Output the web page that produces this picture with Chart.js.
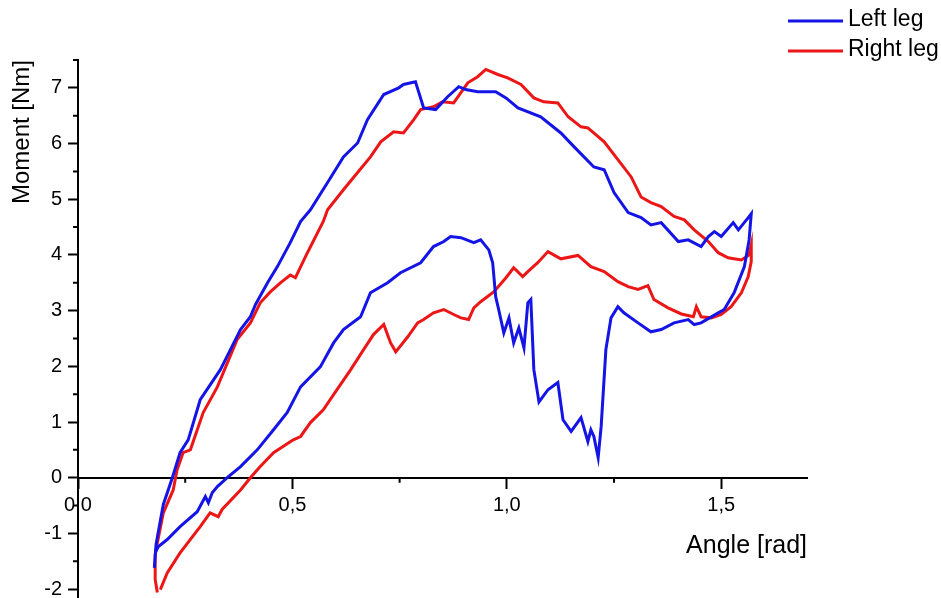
<!DOCTYPE html>
<html>
<head>
<meta charset="utf-8">
<title>Moment vs angle</title>
<script src="https://cdn.jsdelivr.net/npm/chart.js@4.4.1/dist/chart.umd.min.js"></script>
<style>
  body { margin: 0; background: #fff; }
  #wrap { width: 941px; height: 598px; }
</style>
</head>
<body>
<div id="wrap"><canvas id="momentChart" width="941" height="598"></canvas></div>
<script>
// loop of the left leg, angle [rad] and moment [Nm]
var leftAngle = [0.178, 0.182, 0.189, 0.199, 0.220, 0.238, 0.257, 0.285, 0.332, 0.379,
    0.402, 0.414, 0.442, 0.465, 0.495, 0.519, 0.542, 0.582, 0.619, 0.652,
    0.675, 0.713, 0.748, 0.759, 0.787, 0.806, 0.834, 0.862, 0.888, 0.904,
    0.932, 0.974, 0.998, 1.026, 1.079, 1.126, 1.157, 1.203, 1.227, 1.250,
    1.283, 1.313, 1.336, 1.360, 1.400, 1.423, 1.453, 1.470, 1.484, 1.500,
    1.528, 1.540, 1.563, 1.570, 1.565, 1.554, 1.530, 1.507, 1.493, 1.453,
    1.437, 1.423, 1.390, 1.360, 1.336, 1.306, 1.273, 1.259, 1.243, 1.231,
    1.220, 1.213, 1.203, 1.196, 1.189, 1.173, 1.150, 1.131, 1.119, 1.096,
    1.075, 1.063, 1.056, 1.049, 1.040, 1.028, 1.016, 1.005, 0.993, 0.981,
    0.974, 0.967, 0.958, 0.939, 0.923, 0.893, 0.869, 0.853, 0.829, 0.799,
    0.752, 0.722, 0.682, 0.659, 0.619, 0.596, 0.565, 0.519, 0.488, 0.456,
    0.418, 0.379, 0.348, 0.325, 0.313, 0.304, 0.297, 0.278, 0.238, 0.208,
    0.187, 0.180];
var leftMoment = [-1.62, -1.20, -0.90, -0.48, 0.00, 0.45, 0.68, 1.40, 1.94, 2.66,
    2.89, 3.11, 3.50, 3.79, 4.22, 4.60, 4.81, 5.30, 5.76, 6.01,
    6.43, 6.88, 7.00, 7.06, 7.11, 6.64, 6.61, 6.84, 7.02, 6.97,
    6.93, 6.93, 6.82, 6.64, 6.48, 6.19, 5.94, 5.58, 5.53, 5.12,
    4.76, 4.67, 4.54, 4.58, 4.24, 4.27, 4.15, 4.33, 4.42, 4.33,
    4.58, 4.45, 4.67, 4.74, 4.27, 3.79, 3.32, 3.02, 2.96, 2.78,
    2.75, 2.84, 2.78, 2.66, 2.62, 2.78, 2.96, 3.07, 2.87, 2.30,
    0.92, 0.36, 0.74, 0.86, 0.65, 1.08, 0.83, 1.04, 1.71, 1.58,
    1.36, 1.94, 3.20, 3.14, 2.33, 2.69, 2.42, 2.87, 2.60, 3.02,
    3.25, 3.86, 4.09, 4.27, 4.22, 4.31, 4.33, 4.24, 4.15, 3.86,
    3.68, 3.50, 3.32, 2.89, 2.66, 2.42, 1.99, 1.63, 1.17, 0.86,
    0.50, 0.20, 0.00, -0.16, -0.27, -0.45, -0.34, -0.61, -0.88, -1.11,
    -1.24, -1.35];

// loop of the right leg
var rightAngle = [0.185, 0.180, 0.180, 0.185, 0.199, 0.222, 0.231, 0.245, 0.262, 0.292,
    0.325, 0.371, 0.402, 0.425, 0.449, 0.472, 0.495, 0.507, 0.535, 0.572,
    0.582, 0.619, 0.652, 0.682, 0.706, 0.736, 0.759, 0.783, 0.799, 0.829,
    0.850, 0.876, 0.909, 0.932, 0.951, 0.979, 1.002, 1.033, 1.063, 1.086,
    1.119, 1.143, 1.173, 1.189, 1.227, 1.259, 1.290, 1.313, 1.336, 1.360,
    1.390, 1.414, 1.437, 1.470, 1.493, 1.516, 1.547, 1.565, 1.570, 1.570,
    1.563, 1.547, 1.523, 1.500, 1.477, 1.453, 1.442, 1.435, 1.407, 1.376,
    1.343, 1.329, 1.306, 1.283, 1.259, 1.227, 1.196, 1.166, 1.126, 1.096,
    1.072, 1.049, 1.037, 1.016, 0.998, 0.970, 0.939, 0.923, 0.911, 0.893,
    0.876, 0.853, 0.829, 0.806, 0.792, 0.769, 0.741, 0.729, 0.713, 0.689,
    0.666, 0.636, 0.596, 0.572, 0.542, 0.519, 0.502, 0.456, 0.425, 0.402,
    0.379, 0.336, 0.327, 0.308, 0.285, 0.238, 0.208, 0.192];
var rightMoment = [-2.06, -1.83, -1.38, -1.17, -0.63, -0.22, 0.14, 0.45, 0.50, 1.17,
    1.63, 2.48, 2.78, 3.14, 3.34, 3.50, 3.64, 3.59, 4.04, 4.60,
    4.81, 5.17, 5.48, 5.76, 6.03, 6.21, 6.19, 6.43, 6.61, 6.66,
    6.75, 6.73, 7.09, 7.20, 7.33, 7.24, 7.18, 7.06, 6.82, 6.75,
    6.73, 6.48, 6.30, 6.28, 6.03, 5.71, 5.40, 5.04, 4.94, 4.87,
    4.69, 4.63, 4.45, 4.24, 4.04, 3.95, 3.91, 4.00, 4.18, 3.88,
    3.61, 3.32, 3.07, 2.93, 2.87, 2.89, 3.07, 2.89, 2.94, 3.05,
    3.20, 3.45, 3.38, 3.43, 3.52, 3.70, 3.79, 3.99, 3.93, 4.06,
    3.86, 3.70, 3.61, 3.77, 3.59, 3.34, 3.16, 3.05, 2.84, 2.87,
    2.93, 3.02, 2.96, 2.84, 2.78, 2.53, 2.26, 2.42, 2.75, 2.57,
    2.30, 1.94, 1.49, 1.22, 0.99, 0.74, 0.68, 0.45, 0.20, 0.00,
    -0.22, -0.57, -0.70, -0.63, -0.88, -1.35, -1.71, -2.01];

var seriesNames = ["Left leg", "Right leg"];
var seriesColors = ["#1414e6", "#ec1616"];

// axis ranges and ticks
var xMin = 0, xMax = 1.7, xStep = 0.25;
var yMin = -2.16, yMax = 7.5, yStep = 0.5;

var FONT = "'Liberation Sans', Arial, sans-serif";

function toPoints(xs, ys) {
    var pts = [];
    for (var i = 0; i < xs.length; i++) {
        pts.push({ x: xs[i], y: ys[i] });
    }
    return pts;
}

function isWhole(v, step) {
    return Math.abs(v / step - Math.round(v / step)) < 1e-6;
}

// short minor ticks (Chart.js has one tick length only) + the legend at top right
var extrasPlugin = {
    id: "extras",
    afterDraw: function(chart) {
        var ctx = chart.ctx;
        var xs = chart.scales.x, ys = chart.scales.y;
        var x0 = xs.left, y0 = ys.getPixelForValue(0);
        ctx.save();
        ctx.strokeStyle = "#000";
        ctx.lineWidth = 2;
        ctx.beginPath();
        var v;
        for (v = -2; v <= yMax + 1e-6; v += yStep) {
            if (isWhole(v, 1)) continue;
            var py = ys.getPixelForValue(v);
            ctx.moveTo(x0 - 5, py);
            ctx.lineTo(x0, py);
        }
        for (v = xStep; v <= 1.5; v += xStep) {
            if (isWhole(v, 0.5)) continue;
            var px = xs.getPixelForValue(v);
            ctx.moveTo(px, y0);
            ctx.lineTo(px, y0 + 5);
        }
        ctx.stroke();

        // legend
        ctx.font = "23px " + FONT;
        ctx.textBaseline = "middle";
        ctx.textAlign = "left";
        chart.data.datasets.forEach(function(ds, i) {
            var ly = 21 + i * 30;
            ctx.strokeStyle = ds.borderColor;
            ctx.lineWidth = 3;
            ctx.beginPath();
            ctx.moveTo(788, ly);
            ctx.lineTo(843, ly);
            ctx.stroke();
            ctx.fillStyle = "#000";
            ctx.fillText(ds.label, 848, ly - 1);
        });
        ctx.restore();
    }
};

var canvas = document.getElementById("momentChart");
var mychart = new Chart(canvas.getContext("2d"), {
    type: "scatter",
    data: {
        datasets: [{
            label: seriesNames[0],
            data: toPoints(leftAngle, leftMoment),
            borderColor: seriesColors[0],
            backgroundColor: seriesColors[0],
            showLine: true,
            borderWidth: 3,
            pointRadius: 0,
            tension: 0
        }, {
            label: seriesNames[1],
            data: toPoints(rightAngle, rightMoment),
            borderColor: seriesColors[1],
            backgroundColor: seriesColors[1],
            showLine: true,
            borderWidth: 3,
            pointRadius: 0,
            tension: 0
        }]
    },
    options: {
        responsive: false,
        animation: false,
        layout: { padding: { top: 60, right: 134, bottom: 0, left: 0 } },
        plugins: {
            legend: { display: false },
            tooltip: { enabled: false }
        },
        scales: {
            x: {
                type: "linear",
                position: { y: 0 },
                min: xMin,
                max: xMax,
                border: { display: true, color: "#000", width: 2 },
                grid: {
                    drawOnChartArea: false,
                    tickLength: 10,
                    tickWidth: 2,
                    tickColor: function(c) {
                        return c.tick && isWhole(c.tick.value, 0.5) ? "#000" : "rgba(0,0,0,0)";
                    }
                },
                ticks: {
                    stepSize: xStep,
                    includeBounds: false,
                    autoSkip: false,
                    maxRotation: 0,
                    padding: 6,
                    color: "#000",
                    font: { family: FONT, size: 20 },
                    callback: function(v) {
                        return isWhole(v, 0.5) ? v.toFixed(1).replace(".", ",") : "";
                    }
                },
                title: {
                    display: true,
                    text: "Angle [rad]",
                    align: "end",
                    color: "#000",
                    font: { family: FONT, size: 25 },
                    padding: { top: 7, bottom: 0 }
                },
                afterFit: function(scale) {
                    scale.paddingLeft = 0;
                    scale.paddingRight = 0;
                }
            },
            y: {
                type: "linear",
                position: "left",
                min: yMin,
                max: yMax,
                border: { display: true, color: "#000", width: 2 },
                grid: {
                    drawOnChartArea: false,
                    tickLength: 10,
                    tickWidth: 2,
                    tickColor: function(c) {
                        return c.tick && isWhole(c.tick.value, 1) ? "#000" : "rgba(0,0,0,0)";
                    }
                },
                ticks: {
                    stepSize: yStep,
                    includeBounds: false,
                    autoSkip: false,
                    padding: 6,
                    color: "#000",
                    font: { family: FONT, size: 20 },
                    callback: function(v) {
                        return isWhole(v, 1) ? String(Math.round(v)) : "";
                    }
                },
                title: {
                    display: true,
                    text: "Moment [Nm]",
                    align: "end",
                    color: "#000",
                    font: { family: FONT, size: 24 },
                    padding: { top: 8, bottom: 0 }
                },
                afterFit: function(scale) {
                    scale.width = 78;
                    scale.paddingTop = 0;
                    scale.paddingBottom = 0;
                }
            }
        }
    },
    plugins: [extrasPlugin]
});
</script>
</body>
</html>
